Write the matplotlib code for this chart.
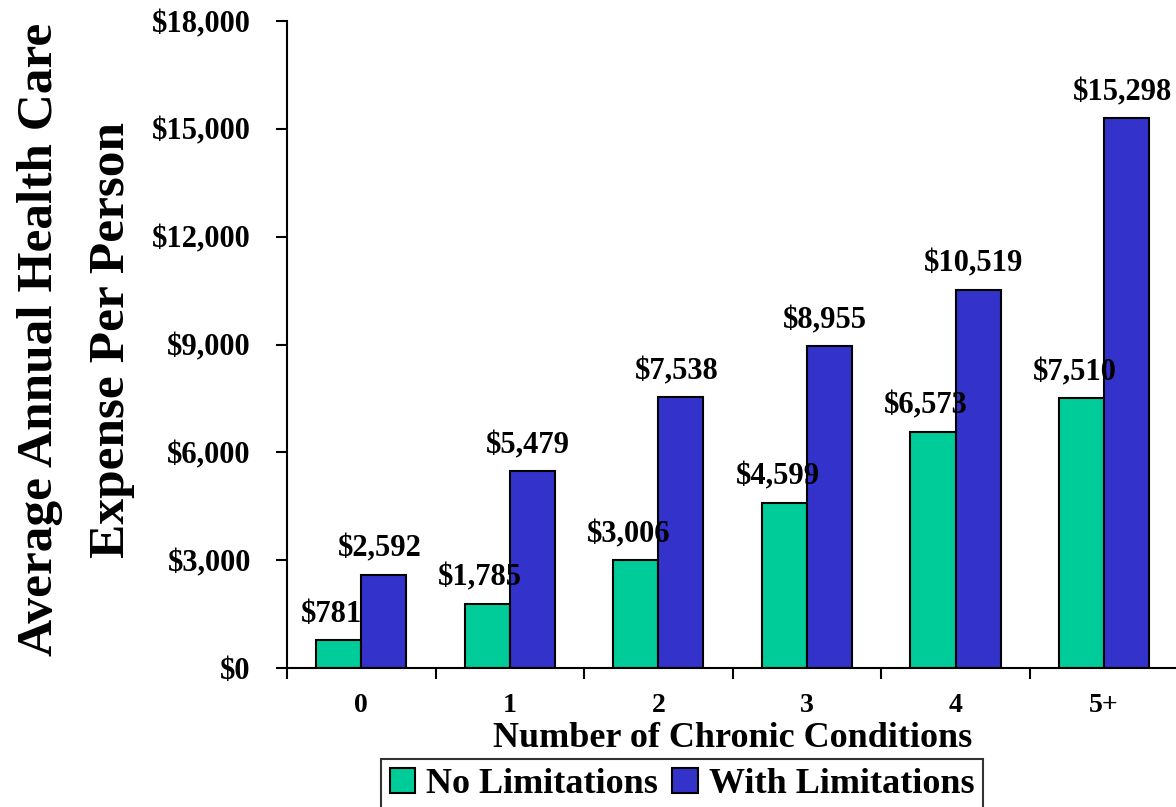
import matplotlib.pyplot as plt
import numpy as np

plt.rcParams["font.family"] = "Liberation Serif"
plt.rcParams["font.weight"] = "bold"

categories = ["0", "1", "2", "3", "4", "5+"]
no_limits = [781, 1785, 3006, 4599, 6573, 7510]
with_limits = [2592, 5479, 7538, 8955, 10519, 15298]

fig = plt.figure(figsize=(11.76, 8.07), dpi=100)
ax = fig.add_axes([0.244, 0.172, 0.758, 0.802])

x = np.arange(len(categories))
w = 0.303
b1 = ax.bar(x - w / 2, no_limits, w, color="#00CC99", edgecolor="black", linewidth=1.5, label="No Limitations")
b2 = ax.bar(x + w / 2, with_limits, w, color="#3333CC", edgecolor="black", linewidth=1.5, label="With Limitations")

for bars, vals, dx in [(b1, no_limits, -5), (b2, with_limits, -3)]:
    for r, v in zip(bars, vals):
        ax.annotate("${:,}".format(v), (r.get_x() + r.get_width() / 2, v),
                    xytext=(dx, 8), textcoords="offset points",
                    ha="center", va="bottom", fontsize=22, fontweight="bold")

ax.set_xlim(-0.5, len(categories) - 0.5)
ax.set_ylim(0, 18000)
ax.set_yticks(np.arange(0, 18001, 3000))
ax.set_yticklabels(["${:,}".format(v) for v in range(0, 18001, 3000)], fontsize=22, fontweight="bold")
ax.set_xticks(x)
ax.set_xticklabels(categories, fontsize=20, fontweight="bold")
ax.set_xticks(np.arange(-0.5, len(categories), 1), minor=True)
ax.tick_params(axis="x", which="major", length=0, pad=18)
ax.tick_params(axis="x", which="minor", length=8, width=1.5, direction="out")
ax.tick_params(axis="y", length=8, width=1.5, direction="out", pad=18)

for s in ["top", "right"]:
    ax.spines[s].set_visible(False)
for s in ["left", "bottom"]:
    ax.spines[s].set_linewidth(1.5)

ax.set_xlabel("Number of Chronic Conditions", fontsize=26, fontweight="bold", labelpad=3)
fig.text(0.034, 0.579, "Average Annual Health Care", rotation=90, ha="center", va="center",
         fontsize=37, fontweight="bold")
fig.text(0.095, 0.579, "Expense Per Person", rotation=90, ha="center", va="center",
         fontsize=37, fontweight="bold")

leg = fig.legend(loc="lower center", bbox_to_anchor=(0.58, -0.017), ncol=2, frameon=True,
                 fancybox=False, edgecolor="black", prop={"size": 26, "weight": "bold"},
                 handlelength=0.7, handleheight=0.7, handletextpad=0.3, columnspacing=0.4,
                 borderpad=0.25, borderaxespad=0.3)
leg.get_frame().set_linewidth(1.5)

fig.savefig("out.png", dpi=100)
